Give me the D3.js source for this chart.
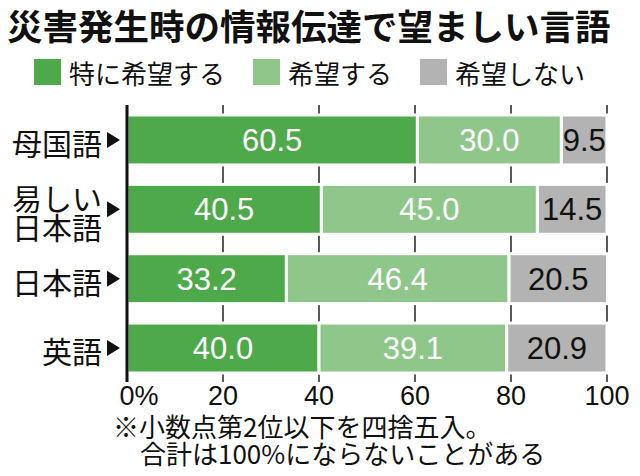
<!DOCTYPE html>
<html>
<head>
<meta charset="utf-8">
<script src="https://cdn.jsdelivr.net/npm/d3@7"></script>
<style>
  body { margin: 0; background: #fff; }
  svg { display: block; }
  .jp { font-family: "Noto Sans CJK JP", sans-serif; }
  .num { font-family: "Liberation Sans", Arial, sans-serif; }
</style>
</head>
<body>
<div class="chart"></div>
<script>
var title = "災害発生時の情報伝達で望ましい言語";
var categories = ["母国語", "易しい\n日本語", "日本語", "英語"];
var seriesNames = ["特に希望する", "希望する", "希望しない"];
var strong = [60.5, 40.5, 33.2, 40.0];
var want = [30.0, 45.0, 46.4, 39.1];
var notWant = [9.5, 14.5, 20.5, 20.9];
var tickValues = [0, 20, 40, 60, 80, 100];
var notes = ["※小数点第2位以下を四捨五入。", "合計は100%にならないことがある"];

var colors = ["#4ea94b", "#8fc78b", "#b3b3b3"];
var labelColors = ["#fff", "#fff", "#111"];

function chart() {
    var width = 640, height = 476;

    var svg = d3.select(".chart").append("svg")
        .attr("width", width)
        .attr("height", height);

    var x = d3.scaleLinear()
        .domain([0, 100])
        .range([127, 607]);

    var y = d3.scaleBand()
        .domain(categories)
        .range([115, 373])
        .paddingInner(0.28)
        .paddingOuter(0);

    // stack the three answers per category
    var rows = categories.map(function (c, i) {
        return {cat: c, v: [strong[i], want[i], notWant[i]]};
    });
    var segs = [];
    rows.forEach(function (r) {
        var acc = 0;
        r.v.forEach(function (v, k) {
            segs.push({cat: r.cat, k: k, x0: acc, x1: acc + v, v: v});
            acc += v;
        });
    });

    // title
    svg.append("text")
        .attr("class", "jp")
        .attr("x", 7)
        .attr("y", 24)
        .attr("dominant-baseline", "central")
        .attr("font-size", 35.5)
        .attr("font-weight", "bold")
        .attr("fill", "#111")
        .text(title);

    // legend
    var legX = [34, 253, 420];
    var lg = svg.append("g");
    seriesNames.forEach(function (s, k) {
        lg.append("rect")
            .attr("x", legX[k])
            .attr("y", 59)
            .attr("width", 27)
            .attr("height", 26)
            .attr("fill", colors[k]);
        lg.append("text")
            .attr("class", "jp")
            .attr("x", legX[k] + 35)
            .attr("y", 72)
            .attr("dominant-baseline", "central")
            .attr("font-size", 26)
            .attr("fill", "#111")
            .text(s);
    });

    // grid / ticks behind the bars
    svg.append("g")
        .selectAll("line")
        .data(tickValues.slice(1))
        .enter().append("line")
        .attr("x1", function (d) { return x(d); })
        .attr("x2", function (d) { return x(d); })
        .attr("y1", 105)
        .attr("y2", 382)
        .attr("stroke", "#222")
        .attr("stroke-width", 1.5);

    // bars
    svg.append("g")
        .selectAll("rect")
        .data(segs)
        .enter().append("rect")
        .attr("x", function (d) { return x(d.x0); })
        .attr("y", function (d) { return y(d.cat); })
        .attr("width", function (d) { return x(d.x1) - x(d.x0); })
        .attr("height", y.bandwidth())
        .attr("fill", function (d) { return colors[d.k]; })
        .attr("stroke", "#fff")
        .attr("stroke-width", 3);

    // value labels
    svg.append("g")
        .selectAll("text")
        .data(segs)
        .enter().append("text")
        .attr("class", "num")
        .attr("x", function (d) { return (x(d.x0) + x(d.x1)) / 2; })
        .attr("y", function (d) { return y(d.cat) + y.bandwidth() / 2 + 11; })
        .attr("text-anchor", "middle")
        .attr("font-size", 31)
        .attr("fill", function (d) { return labelColors[d.k]; })
        .text(function (d) { return d.v.toFixed(1); });

    // zero axis line
    svg.append("line")
        .attr("x1", x(0))
        .attr("x2", x(0))
        .attr("y1", 105)
        .attr("y2", 382)
        .attr("stroke", "#111")
        .attr("stroke-width", 3);

    // bottom tick labels
    svg.append("g")
        .selectAll("text")
        .data(tickValues)
        .enter().append("text")
        .attr("class", "num")
        .attr("x", function (d) { return x(d); })
        .attr("y", 405)
        .attr("dx", function (d) { return d === 0 ? "-0.28em" : 0; })
        .attr("text-anchor", function (d) { return d === 0 ? "start" : "middle"; })
        .attr("font-size", 27)
        .attr("fill", "#111")
        .text(function (d) { return d === 0 ? "0%" : d; });

    // category labels with arrow marks
    var cg = svg.append("g");
    categories.forEach(function (c) {
        var cy = y(c) + y.bandwidth() / 2;
        var lines = c.split("\n");
        var t = cg.append("text")
            .attr("class", "jp")
            .attr("text-anchor", "end")
            .attr("font-size", 30)
            .attr("fill", "#111");
        lines.forEach(function (l, i) {
            t.append("tspan")
                .attr("x", 102)
                .attr("y", cy + 2 + (i - (lines.length - 1) / 2) * 29)
                .attr("dominant-baseline", "central")
                .text(l);
        });
        cg.append("path")
            .attr("d", d3.line()([[107, cy - 8], [120, cy], [107, cy + 8]]) + "Z")
            .attr("fill", "#111");
    });

    // footnote
    notes.forEach(function (n, i) {
        svg.append("text")
            .attr("class", "jp")
            .attr("x", i === 0 ? 113 : 140)
            .attr("y", 425 + i * 27)
            .attr("dominant-baseline", "central")
            .attr("font-size", 26)
            .attr("fill", "#111")
            .text(n);
    });
}

chart();
</script>
</body>
</html>
